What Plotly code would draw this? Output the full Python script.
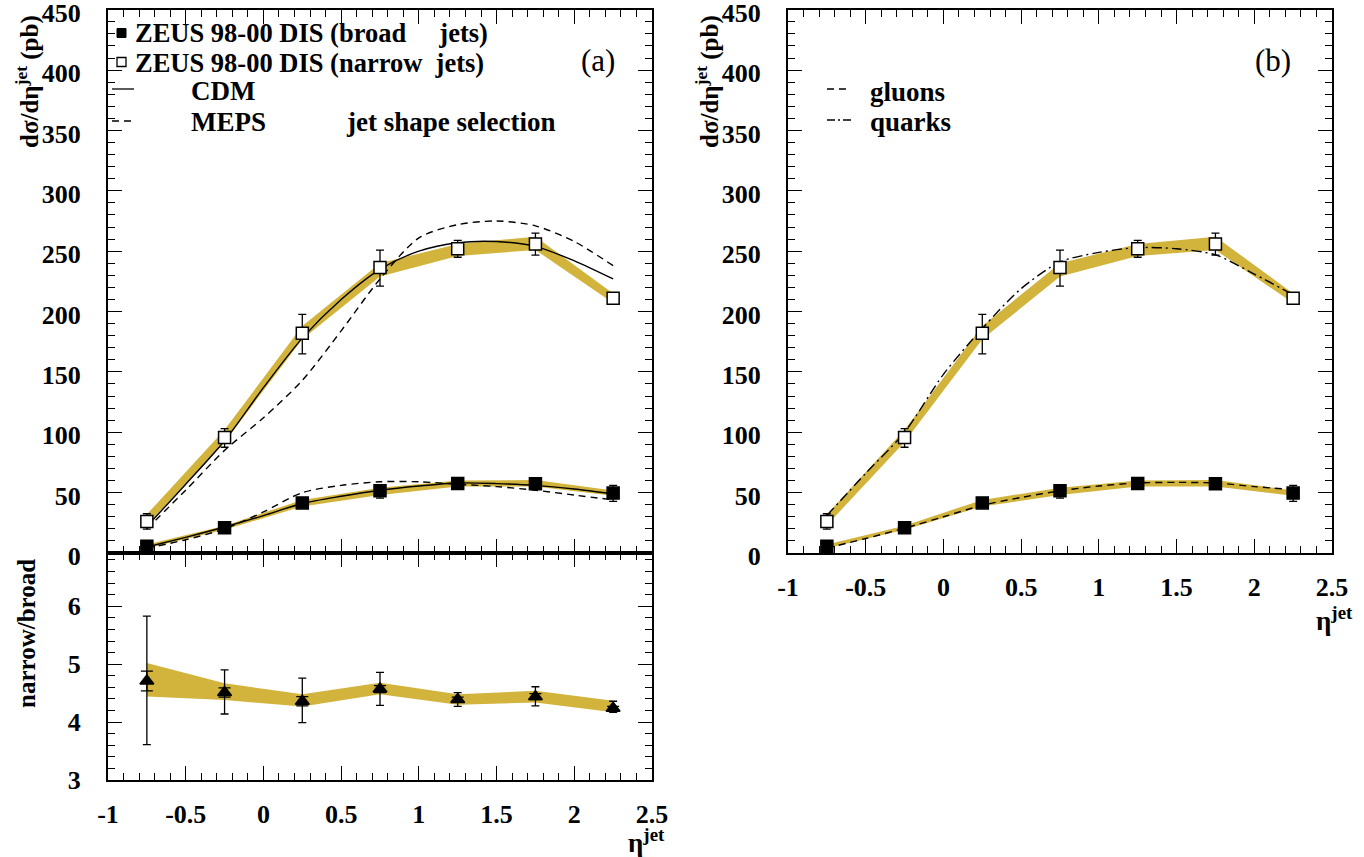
import plotly.graph_objects as go

W, H = 1364, 857

# ---------------- data ----------------
eta = [-0.75, -0.25, 0.25, 0.75, 1.25, 1.75, 2.25]

narrow = [26.0, 95.6, 182.0, 236.5, 252.0, 256.0, 211.0]
narrow_err_up = [6.5, 7.4, 15.6, 14.3, 7.0, 9.0, 2.6]
narrow_err_dn = [6.2, 8.0, 17.0, 15.5, 7.0, 9.3, 2.4]
narrow_band_lo = [23.0, 92.0, 177.0, 229.0, 246.0, 251.0, 207.0]
narrow_band_hi = [32.0, 102.0, 188.0, 240.0, 256.0, 262.0, 215.0]

broad = [5.5, 21.0, 41.5, 51.5, 57.6, 57.3, 49.6]
broad_err_up = [1.0, 1.5, 2.5, 5.0, 1.5, 1.5, 6.4]
broad_err_dn = [1.0, 1.5, 2.5, 6.0, 1.5, 1.5, 6.9]
broad_band_lo = [4.0, 19.3, 38.6, 48.0, 55.0, 55.0, 47.4]
broad_band_hi = [7.0, 22.6, 44.0, 54.0, 60.0, 60.5, 51.8]

ratio = [4.71, 4.51, 4.36, 4.57, 4.39, 4.44, 4.24]
ratio_err_up = [1.12, 0.39, 0.40, 0.29, 0.12, 0.17, 0.12]
ratio_err_dn = [1.10, 0.37, 0.37, 0.28, 0.12, 0.16, 0.07]
ratio_stat = [0.17, 0.08, 0.08, 0.06, 0.04, 0.05, 0.03]
ratio_band_lo = [4.44, 4.38, 4.27, 4.48, 4.30, 4.34, 4.17]
ratio_band_hi = [5.02, 4.67, 4.48, 4.68, 4.48, 4.54, 4.37]

# model curves, sampled on a finer eta grid
eta_mc = [-0.75, -0.5, -0.25, 0.0, 0.25, 0.5, 0.75, 1.0, 1.25, 1.5, 1.75, 2.0, 2.25]
cdm_narrow = [22, 57, 93, 137, 178, 210, 235, 250, 257, 258, 254, 242, 227]
cdm_broad = [5, 13, 21.5, 31, 41, 47, 52, 55.5, 58, 57.5, 56, 53, 49]
meps_narrow = [20, 52, 85, 112, 143, 184, 227, 261, 272, 275, 271, 258, 238]
meps_broad = [4, 11, 20, 34, 50, 56, 59, 59, 57, 55, 52, 48, 44]
quarks_narrow = [31, 66, 100, 148, 186, 219, 241, 249, 253, 252, 247, 231, 214]
gluons_broad = [4, 12, 20.5, 30, 39.5, 46, 51.5, 55.5, 58, 58.5, 58, 55, 52.5]

x_ticks = [-1, -0.5, 0, 0.5, 1, 1.5, 2, 2.5]
x_ticklabels = ["-1", "-0.5", "0", "0.5", "1", "1.5", "2", "2.5"]
xsec_ticks = [0, 50, 100, 150, 200, 250, 300, 350, 400, 450]
ratio_ticks = [3, 4, 5, 6]

# ---------------- style ----------------
BAND = "rgb(210,180,60)"
SERIF = "Liberation Serif"
TICKFONT = dict(family=SERIF, size=26, color="black")


def bold(labels):
    return [f"<b>{v}</b>" for v in labels]


def px(x):
    return x / W


def py(y):
    return 1 - y / H


fig = go.Figure()


def band(lo, hi, xa, ya):
    fig.add_trace(go.Scatter(x=eta, y=lo, mode="lines", line=dict(width=0, color=BAND),
                             xaxis=xa, yaxis=ya, showlegend=False, hoverinfo="skip"))
    fig.add_trace(go.Scatter(x=eta, y=hi, mode="lines", line=dict(width=0, color=BAND),
                             fill="tonexty", fillcolor=BAND,
                             xaxis=xa, yaxis=ya, showlegend=False, hoverinfo="skip"))


def curve(y, dash, xa, ya):
    fig.add_trace(go.Scatter(x=eta_mc, y=y, mode="lines",
                             line=dict(color="black", width=1.4, dash=dash, shape="spline", smoothing=0.8),
                             xaxis=xa, yaxis=ya, showlegend=False, hoverinfo="skip"))


def points(y, up, dn, filled, xa, ya, symbol="square", size=12):
    fig.add_trace(go.Scatter(
        x=eta, y=y, mode="markers",
        marker=dict(symbol=symbol, size=size, color="black" if filled else "white",
                    line=dict(color="black", width=1.5)),
        error_y=dict(type="data", symmetric=False, array=up, arrayminus=dn,
                     color="black", thickness=1.3, width=4),
        xaxis=xa, yaxis=ya, showlegend=False))


# panel (a): cross sections
band(narrow_band_lo, narrow_band_hi, "x", "y")
band(broad_band_lo, broad_band_hi, "x", "y")
curve(cdm_narrow, "solid", "x", "y")
curve(meps_narrow, "7px,5px", "x", "y")
curve(cdm_broad, "solid", "x", "y")
curve(meps_broad, "7px,5px", "x", "y")
points(narrow, narrow_err_up, narrow_err_dn, False, "x", "y")
points(broad, broad_err_up, broad_err_dn, True, "x", "y")

# panel (a): ratio
band(ratio_band_lo, ratio_band_hi, "x2", "y2")
points(ratio, ratio_err_up, ratio_err_dn, True, "x2", "y2", symbol="triangle-up", size=12)
fig.add_trace(go.Scatter(
    x=eta, y=ratio, mode="markers", marker=dict(size=1, color="black"),
    error_y=dict(type="data", array=ratio_stat, color="black", thickness=1.3, width=6),
    xaxis="x2", yaxis="y2", showlegend=False))

# panel (b): quark / gluon
band(narrow_band_lo, narrow_band_hi, "x3", "y3")
band(broad_band_lo, broad_band_hi, "x3", "y3")
curve(quarks_narrow, "10px,4px,2px,4px", "x3", "y3")
curve(gluons_broad, "7px,5px", "x3", "y3")
points(narrow, narrow_err_up, narrow_err_dn, False, "x3", "y3")
points(broad, broad_err_up, broad_err_dn, True, "x3", "y3")

# ---------------- axes ----------------
common = dict(showline=True, linecolor="black", linewidth=2, mirror="ticks",
              ticks="inside", tickcolor="black", tickwidth=1.3, showgrid=False,
              zeroline=False, tickfont=TICKFONT, ticklabeloverflow="allow", automargin=False)

xa_dom = [px(108), px(652)]
xb_dom = [px(788), px(1332)]
top_dom = [py(553), py(9.5)]
bot_dom = [py(780), py(553)]

xcommon = dict(common, range=[-1, 2.5], tickvals=x_ticks, ticktext=bold(x_ticklabels), ticklen=14,
               ticklabelstandoff=10,
               minor=dict(dtick=0.1, ticklen=7, tickcolor="black", ticks="inside", tickwidth=1.2))
ytop = dict(common, range=[0, 450.2], tickvals=xsec_ticks, ticktext=bold(xsec_ticks),
            ticklen=14, ticklabelstandoff=20, ticklabelshift=3,
            minor=dict(dtick=10, ticklen=7, tickcolor="black", ticks="inside", tickwidth=1.2))

fig.update_layout(
    width=W, height=H, margin=dict(l=0, r=0, t=0, b=0, autoexpand=False),
    paper_bgcolor="white", plot_bgcolor="white",
    font=dict(family=SERIF, color="black"),
    xaxis=dict(xcommon, domain=xa_dom, anchor="y", showticklabels=False),
    yaxis=dict(ytop, domain=top_dom, anchor="x"),
    xaxis2=dict(xcommon, domain=xa_dom, anchor="y2"),
    yaxis2=dict(common, domain=bot_dom, anchor="x2", range=[3, 6.92], tickvals=ratio_ticks,
                ticktext=bold(ratio_ticks), ticklen=14, ticklabelstandoff=20,
                minor=dict(dtick=0.2, ticklen=7, tickcolor="black", ticks="inside", tickwidth=1.2)),
    xaxis3=dict(xcommon, domain=xb_dom, anchor="y3"),
    yaxis3=dict(ytop, domain=top_dom, anchor="x3"),
)

# ---------------- titles and legends ----------------
ann = []


def text(x, y, s, size=27, xanchor="left", angle=0, bold=True):
    t = f"<b>{s}</b>" if bold else s
    ann.append(dict(x=px(x), y=py(y), xref="paper", yref="paper", text=t, showarrow=False,
                    xanchor=xanchor, yanchor="middle", textangle=angle, borderpad=0,
                    font=dict(family=SERIF, size=size, color="black")))


text(28, 82, "dσ/dη<sup>jet</sup> (pb)", size=25, angle=-90, xanchor="center")
text(708, 82, "dσ/dη<sup>jet</sup> (pb)", size=25, angle=-90, xanchor="center")
text(26, 634, "narrow/broad", size=25, angle=-90, xanchor="center")
text(666, 841, "η<sup>jet</sup>", size=27, xanchor="right")
text(1354, 619, "η<sup>jet</sup>", size=27, xanchor="right")

text(134, 33, "ZEUS 98-00 DIS (broad\u00a0\u00a0\u00a0\u00a0\u00a0jets)", size=26.5)
text(134, 63, "ZEUS 98-00 DIS (narrow\u00a0\u00a0jets)", size=26.5)
text(190, 91, "CDM")
text(190, 122, "MEPS")
text(556, 122, "jet shape selection", xanchor="right")
text(616, 60, "(a)", size=31, xanchor="right", bold=False)

text(869, 92, "gluons")
text(869, 122, "quarks")
text(1292, 60, "(b)", size=31, xanchor="right", bold=False)

fig.update_layout(annotations=ann)

# legend glyphs
shapes = [
    dict(type="rect", xref="paper", yref="paper", x0=px(117), x1=px(126), y0=py(37.5), y1=py(28.5),
         fillcolor="black", line=dict(color="black", width=1)),
    dict(type="rect", xref="paper", yref="paper", x0=px(117), x1=px(126), y0=py(66.5), y1=py(57.5),
         fillcolor="white", line=dict(color="black", width=1.3)),
    dict(type="line", xref="paper", yref="paper", x0=px(112), x1=px(134), y0=py(89), y1=py(89),
         line=dict(color="black", width=1.3)),
    dict(type="line", xref="paper", yref="paper", x0=px(112), x1=px(134), y0=py(121), y1=py(121),
         line=dict(color="black", width=1.3, dash="7px,5px")),
    dict(type="line", xref="paper", yref="paper", x0=px(827), x1=px(851), y0=py(89), y1=py(89),
         line=dict(color="black", width=1.3, dash="7px,5px")),
    dict(type="line", xref="paper", yref="paper", x0=px(827), x1=px(851), y0=py(120), y1=py(120),
         line=dict(color="black", width=1.3, dash="8px,3px,2px,3px")),
]
fig.update_layout(shapes=shapes)

fig.write_html("out.html")
